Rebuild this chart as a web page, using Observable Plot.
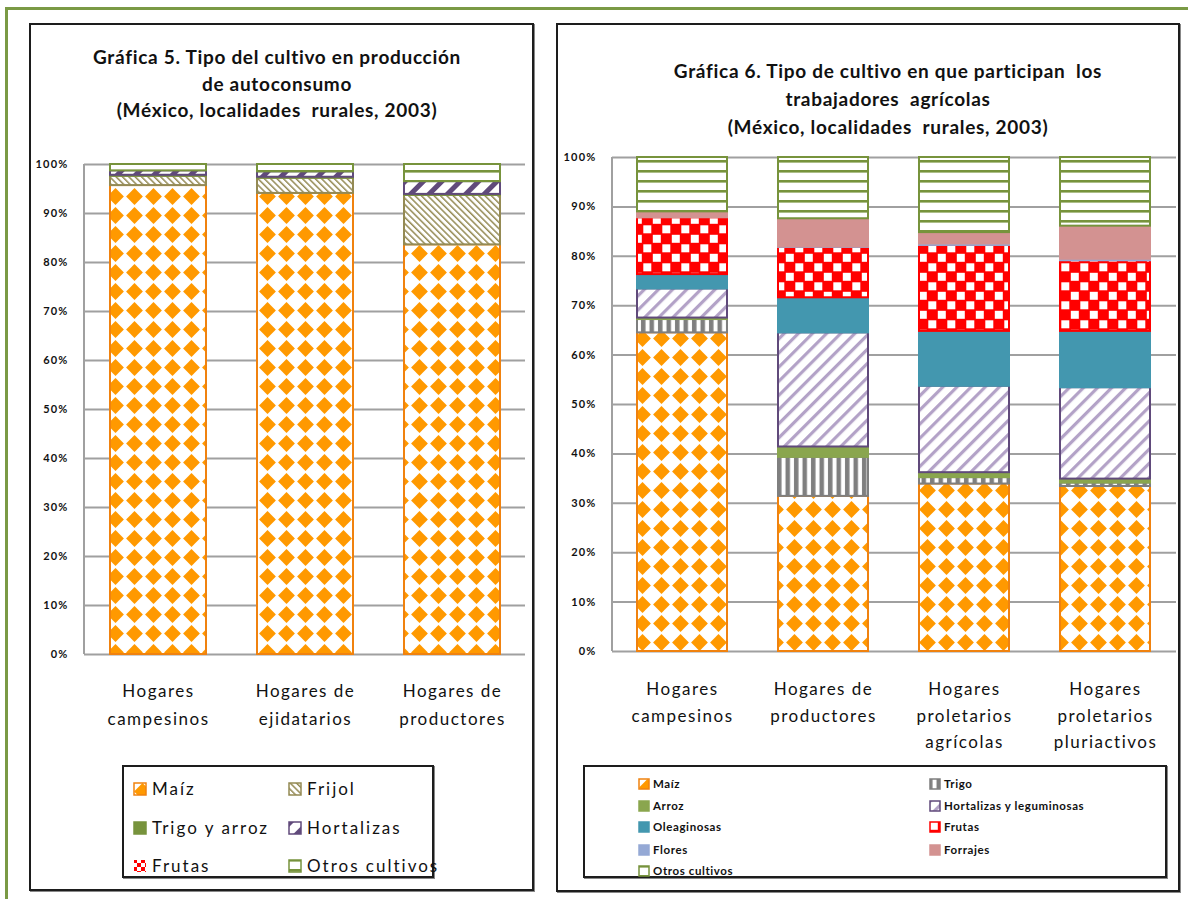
<!DOCTYPE html>
<html>
<head>
<meta charset="utf-8">
<script src="https://cdn.jsdelivr.net/npm/d3@7"></script>
<script src="https://cdn.jsdelivr.net/npm/@observablehq/plot@0.6"></script>
<style>
  body { margin: 0; background: #fff; font-family: Lato, "Open Sans", sans-serif; }
  #page { position: relative; width: 1188px; height: 899px; overflow: hidden; background: #fff; }
  .frame-top { position: absolute; left: 5px; top: 7px; width: 1183px; height: 3px; background: #7A9A45; }
  .frame-left { position: absolute; left: 5px; top: 7px; width: 3px; height: 892px; background: #7A9A45; }
  .panel { position: absolute; box-sizing: border-box; border: 2px solid #1d1d1d; box-shadow: 1px 1px 0 #888; }
  .title { position: absolute; font-weight: 700; font-size: 19px; white-space: pre; line-height: 20px;
           transform: translateX(-50%); color: #111; letter-spacing: 0.7px; }
  .chart { position: absolute; }
  .legend { position: absolute; box-sizing: border-box; border: 2px solid #1d1d1d; box-shadow: 1px 1px 0 #888; background: #fff; }
  .item { position: absolute; white-space: pre; color: #111; }
  .item svg { position: absolute; }
  .item span { position: absolute; top: 0; }
  .chart [aria-label="y-axis tick label"] { font-weight: 700; letter-spacing: 1.2px; }
  .chart [aria-label="x-axis tick label"] { letter-spacing: 1.5px; }
</style>
</head>
<body>
<div id="page">
  <svg width="0" height="0" style="position:absolute">
    <defs>
      <pattern id="p-maiz" patternUnits="userSpaceOnUse" width="19" height="19">
        <rect width="19" height="19" fill="#fff"/>
        <polygon points="9.5,1.1 17.9,9.5 9.5,17.9 1.1,9.5" fill="#FF9900"/>
      </pattern>
      <pattern id="p-frijol" patternUnits="userSpaceOnUse" width="4.5" height="4.5" patternTransform="rotate(-45)">
        <rect width="4.5" height="4.5" fill="#fff"/>
        <rect width="1.5" height="4.5" fill="#948A54"/>
      </pattern>
      <pattern id="p-hort5" patternUnits="userSpaceOnUse" width="13" height="13" patternTransform="rotate(45)">
        <rect width="13" height="13" fill="#fff"/>
        <rect width="5" height="13" fill="#604A7B"/>
      </pattern>
      <pattern id="p-frutas5" patternUnits="userSpaceOnUse" width="8" height="8">
        <rect width="8" height="8" fill="#fff"/>
        <rect x="0" y="0" width="4" height="4" fill="#FF0000"/>
        <rect x="4" y="4" width="4" height="4" fill="#FF0000"/>
      </pattern>
      <pattern id="p-otros" patternUnits="userSpaceOnUse" width="10" height="10">
        <rect width="10" height="10" fill="#fff"/>
        <rect y="0" width="10" height="2.6" fill="#77933C"/>
      </pattern>
      <pattern id="p-trigo" patternUnits="userSpaceOnUse" width="8.5" height="8.5">
        <rect width="8.5" height="8.5" fill="#7F7F7F"/>
        <rect x="3.5" width="4" height="8.5" fill="#fff"/>
      </pattern>
      <pattern id="p-hort6" patternUnits="userSpaceOnUse" width="10" height="10" patternTransform="rotate(45)">
        <rect width="10" height="10" fill="#fff"/>
        <rect width="3.2" height="10" fill="#B3A2C7"/>
      </pattern>
      <pattern id="p-frutas6" patternUnits="userSpaceOnUse" width="19" height="19">
        <rect width="19" height="19" fill="#FF0000"/>
        <rect x="0.8" y="0.8" width="8" height="8" fill="#fff"/>
        <rect x="10.3" y="10.3" width="8" height="8" fill="#fff"/>
      </pattern>
    </defs>
  </svg>

  <div class="frame-top"></div>
  <div class="frame-left"></div>

  <div class="panel" style="left:29px;top:23px;width:505px;height:868px;"></div>
  <div class="panel" style="left:556px;top:23px;width:624px;height:869px;"></div>

  <div class="title" style="left:277px;top:47px;">Gráfica 5. Tipo del cultivo en producción</div>
  <div class="title" style="left:277px;top:74px;">de autoconsumo</div>
  <div class="title" style="left:277px;top:100px;">(México, localidades  rurales, 2003)</div>

  <div class="title" style="left:888px;top:61px;">Gráfica 6. Tipo de cultivo en que participan  los</div>
  <div class="title" style="left:888px;top:89px;">trabajadores  agrícolas</div>
  <div class="title" style="left:888px;top:117px;">(México, localidades  rurales, 2003)</div>

  <div class="chart" id="chart5" style="left:30px;top:130px;"></div>
  <div class="chart" id="chart6" style="left:557px;top:120px;"></div>

  <div class="legend" id="legend5" style="left:122px;top:765px;width:312px;height:113px;"></div>
  <div class="legend" id="legend6" style="left:583px;top:765px;width:584px;height:113px;"></div>
</div>

<script>
// ---- Gráfica 5: cultivos de autoconsumo ----
const categories5 = ["Hogares campesinos", "Hogares de ejidatarios", "Hogares de productores"];
const tickLabels5 = ["Hogares\ncampesinos", "Hogares de\nejidatarios", "Hogares de\nproductores"];
const series5 = ["Maíz", "Frijol", "Trigo y arroz", "Hortalizas", "Frutas", "Otros cultivos"];
const maiz5 = [95.7, 94.1, 83.6];
const frijol5 = [1.9, 3.1, 10.1];
const trigoArroz5 = [0.2, 0.2, 0.2];
const hortalizas5 = [0.9, 1.1, 2.6];
const frutas5 = [0.0, 0.0, 0.0];
const otros5 = [1.3, 1.5, 3.5];

// ---- Gráfica 6: cultivos en que participan los trabajadores ----
const categories6 = ["Hogares campesinos", "Hogares de productores", "Hogares proletarios agrícolas", "Hogares proletarios pluriactivos"];
const tickLabels6 = ["Hogares\ncampesinos", "Hogares de\nproductores", "Hogares\nproletarios\nagrícolas", "Hogares\nproletarios\npluriactivos"];
const series6 = ["Maíz", "Trigo", "Arroz", "Hortalizas y leguminosas", "Oleaginosas", "Frutas", "Flores", "Forrajes", "Otros cultivos"];
const maiz6 = [64.5, 31.4, 33.9, 33.4];
const trigo6 = [2.7, 7.9, 1.3, 0.7];
const arroz6 = [0.3, 2.1, 1.0, 0.8];
const hortalizas6 = [5.9, 23.1, 17.5, 18.5];
const oleaginosas6 = [2.9, 7.1, 11.1, 11.4];
const frutas6 = [11.5, 10.2, 17.4, 14.3];
const flores6 = [0.0, 0.1, 0.3, 0.3];
const forrajes6 = [1.2, 5.7, 2.3, 6.7];
const otros6 = [11.0, 12.4, 15.2, 13.9];

const yTicks = [0, 10, 20, 30, 40, 50, 60, 70, 80, 90, 100];

// fill and outline per series
const style5 = {
  "Maíz":           {fill: "url(#p-maiz)",    stroke: "#F0820F"},
  "Frijol":         {fill: "url(#p-frijol)",  stroke: "#948A54"},
  "Trigo y arroz":  {fill: "#77933C",         stroke: "#77933C"},
  "Hortalizas":     {fill: "url(#p-hort5)",   stroke: "#604A7B"},
  "Frutas":         {fill: "url(#p-frutas5)", stroke: "none"},
  "Otros cultivos": {fill: "url(#p-otros)",   stroke: "#77933C"}
};
const style6 = {
  "Maíz":                     {fill: "url(#p-maiz)",    stroke: "#F0820F"},
  "Trigo":                    {fill: "url(#p-trigo)",   stroke: "#7F7F7F"},
  "Arroz":                    {fill: "#8AA64E",         stroke: "#8AA64E"},
  "Hortalizas y leguminosas": {fill: "url(#p-hort6)",   stroke: "#604A7B"},
  "Oleaginosas":              {fill: "#4397AF",         stroke: "#4397AF"},
  "Frutas":                   {fill: "url(#p-frutas6)", stroke: "#FF0000"},
  "Flores":                   {fill: "#95A9D5",         stroke: "#95A9D5"},
  "Forrajes":                 {fill: "#D39291",         stroke: "#D39291"},
  "Otros cultivos":           {fill: "url(#p-otros)",   stroke: "#77933C"}
};

function tidy(categories, series, columns) {
  const rows = [];
  series.forEach((s, si) => categories.forEach((c, ci) => {
    const v = columns[si][ci];
    if (v > 0) rows.push({cat: c, serie: s, value: v});
  }));
  return rows;
}

const rows5 = tidy(categories5, series5, [maiz5, frijol5, trigoArroz5, hortalizas5, frutas5, otros5]);
const rows6 = tidy(categories6, series6, [maiz6, trigo6, arroz6, hortalizas6, oleaginosas6, frutas6, flores6, forrajes6, otros6]);

// vertical axis line at the left edge of the frame
const leftAxisLine = (index, scales, values, dims) => {
  const l = document.createElementNS("http://www.w3.org/2000/svg", "line");
  l.setAttribute("x1", dims.marginLeft);
  l.setAttribute("x2", dims.marginLeft);
  l.setAttribute("y1", scales.y(0));
  l.setAttribute("y2", scales.y(100));
  l.setAttribute("stroke", "#A0A0A0");
  l.setAttribute("stroke-width", 2);
  return l;
};

function makeChart(o) {
  return Plot.plot({
    width: o.width,
    height: o.height,
    marginLeft: o.marginLeft,
    marginRight: o.marginRight,
    marginTop: o.marginTop,
    marginBottom: o.marginBottom,
    style: {background: "transparent", overflow: "visible", fontFamily: "Lato, 'Open Sans', sans-serif", color: "#111"},
    x: {domain: o.categories, paddingInner: o.padding, paddingOuter: o.padding / 2, label: null},
    y: {domain: [0, 100], label: null},
    color: {type: "identity"},
    marks: [
      Plot.ruleY(yTicks, {stroke: "#A0A0A0", strokeWidth: 2}),
      leftAxisLine,
      Plot.barY(o.rows, {
        x: "cat", y: "value",
        fill: d => o.style[d.serie].fill,
        stroke: d => o.style[d.serie].stroke,
        strokeWidth: 2
      }),
      Plot.axisY({
        ticks: yTicks, tickFormat: d => d + "%", tickSize: 0, tickPadding: 16,
        fontSize: 11, fontWeight: "bold", label: null
      }),
      Plot.axisX({
        tickSize: 0, tickPadding: o.xPad,
        tickFormat: d => o.tickLabels[o.categories.indexOf(d)],
        fontSize: 17, lineHeight: o.lineHeight, label: null
      })
    ]
  });
}

document.getElementById("chart5").append(makeChart({
  width: 505, height: 600, marginLeft: 54, marginRight: 10, marginTop: 34, marginBottom: 76,
  categories: categories5, tickLabels: tickLabels5, rows: rows5, style: style5,
  padding: 0.35, xPad: 23, lineHeight: 1.65
}));

document.getElementById("chart6").append(makeChart({
  width: 622, height: 640, marginLeft: 55, marginRight: 3, marginTop: 37, marginBottom: 109,
  categories: categories6, tickLabels: tickLabels6, rows: rows6, style: style6,
  padding: 0.36, xPad: 25, lineHeight: 1.56
}));

// ---- legends ----
function legendItem(container, s, st, x, y, size, fontSize, textX, bold) {
  const item = document.createElement("div");
  item.className = "item";
  item.style.left = x + "px";
  item.style.top = (y - size / 2) + "px";
  const sw = document.createElementNS("http://www.w3.org/2000/svg", "svg");
  sw.setAttribute("width", size + 2);
  sw.setAttribute("height", size + 2);
  sw.style.left = "0px";
  sw.style.top = "0px";
  const r = document.createElementNS("http://www.w3.org/2000/svg", "rect");
  r.setAttribute("x", 1); r.setAttribute("y", 1);
  r.setAttribute("width", size); r.setAttribute("height", size);
  r.setAttribute("fill", st.fill);
  r.setAttribute("stroke", st.stroke);
  r.setAttribute("stroke-width", 1.5);
  sw.append(r);
  item.append(sw);
  const t = document.createElement("span");
  t.textContent = s;
  t.style.left = textX + "px";
  t.style.fontSize = fontSize + "px";
  t.style.lineHeight = (size + 2) + "px";
  t.style.fontWeight = bold ? "700" : "400";
  t.style.letterSpacing = bold ? "0.6px" : "2px";
  item.append(t);
  container.append(item);
}

const legend5 = document.getElementById("legend5");
const legendCols5 = [9, 164];
const legendRows5 = [21, 60, 98];
series5.forEach((s, i) => {
  legendItem(legend5, s, style5[s], legendCols5[i % 2], legendRows5[Math.floor(i / 2)], 12, 17, 19, false);
});

const legend6 = document.getElementById("legend6");
const legendCols6 = [53, 344];
const legendRows6 = [16, 38, 59, 82, 103];
series6.forEach((s, i) => {
  legendItem(legend6, s, style6[s], legendCols6[i % 2], legendRows6[Math.floor(i / 2)], 10, 11.5, 15, true);
});
</script>
</body>
</html>
